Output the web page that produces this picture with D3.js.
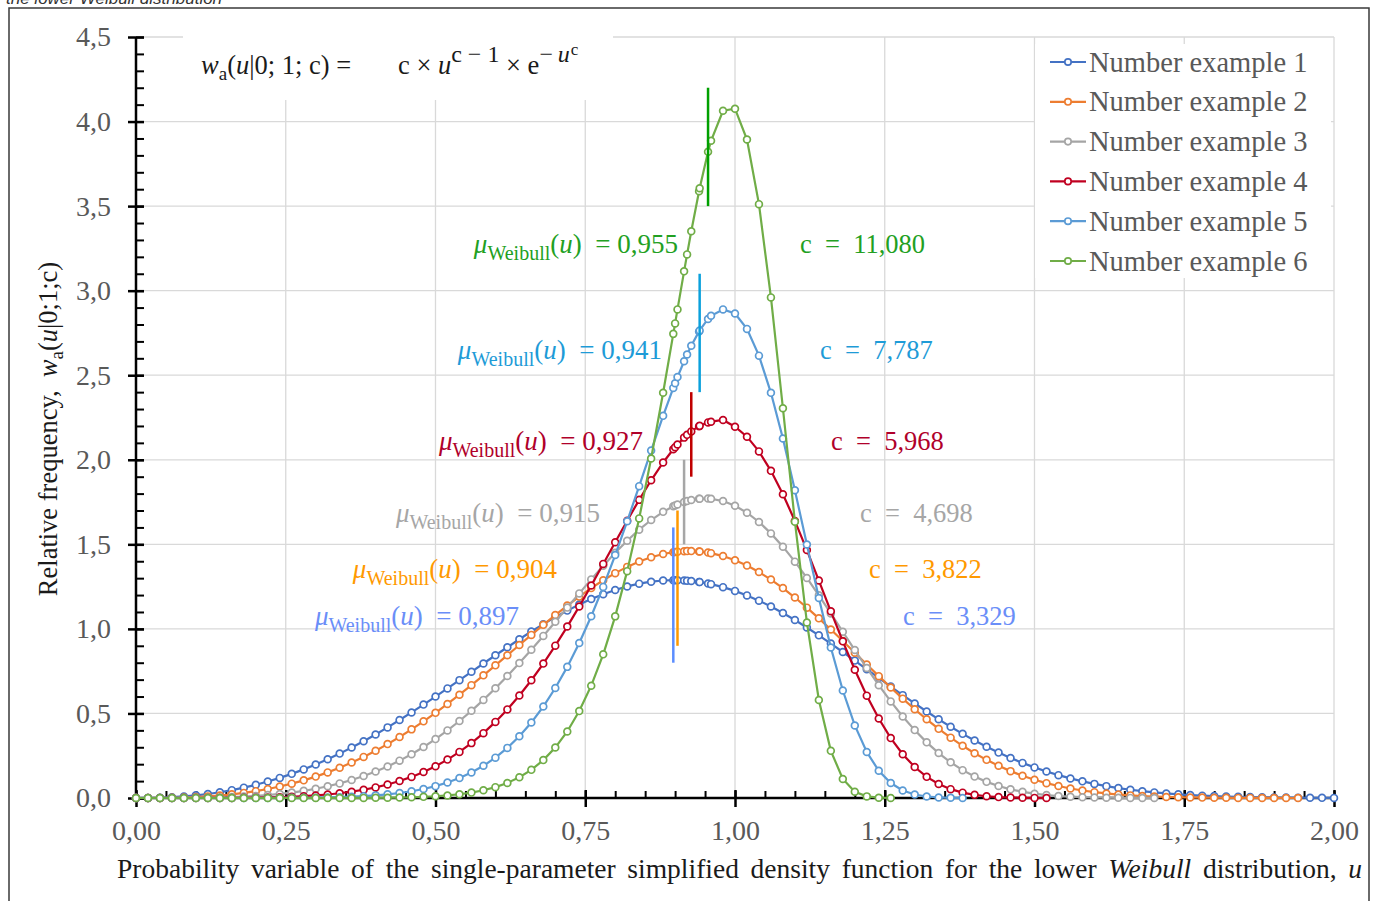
<!DOCTYPE html>
<html><head><meta charset="utf-8">
<script src="https://cdn.jsdelivr.net/npm/d3@7"></script>
<style>
html,body{margin:0;padding:0;background:#fff;}
svg{display:block;}
text{font-family:"Liberation Serif","Times New Roman",serif;}
</style></head><body>
<svg id="chart" width="1378" height="901"></svg>
<script>
// ---------- DATA ----------
const uValues = [0,0.02,0.04,0.06,0.08,0.10,0.12,0.14,0.16,0.18,0.20,0.22,0.24,0.26,0.28,0.30,0.32,0.34,0.36,0.38,0.40,0.42,0.44,0.46,0.48,0.50,0.52,0.54,0.56,0.58,0.60,0.62,0.64,0.66,0.68,0.70,0.72,0.74,0.76,0.78,0.80,0.82,0.84,0.86,0.88,
0.897,0.90,0.904,0.915,0.92,0.927,0.94,0.941,0.955,0.96,
0.98,1.00,1.02,1.04,1.06,1.08,1.10,1.12,1.14,1.16,1.18,1.20,1.22,1.24,1.26,1.28,1.30,1.32,1.34,1.36,1.38,1.40,1.42,1.44,1.46,1.48,1.50,1.52,1.54,1.56,1.58,1.60,1.62,1.64,1.66,1.68,1.70,1.72,1.74,1.76,1.78,1.80,1.82,1.84,1.86,1.88,1.90,1.92,1.94,1.96,1.98,2.00];

const seriesNames = ["Number example 1","Number example 2","Number example 3","Number example 4","Number example 5","Number example 6"];
const cLabels = ["3,329","3,822","4,698","5,968","7,787","11,080"];
const meanValues = [0.897,0.904,0.915,0.927,0.941,0.955];
const meanLabels = ["0,897","0,904","0,915","0,927","0,941","0,955"];

const series1 = [0,0.0004,0.0018,0.0048,0.0093,0.0156,0.0238,0.0341,0.0465,0.0611,0.0780,0.0973,0.1189,0.1428,0.1692,0.1980,0.2291,0.2625,0.2982,0.3360,0.3758,0.4176,0.4610,0.5060,0.5524,0.5998,0.6481,0.6970,0.7462,0.7952,0.8441,0.8916,0.9389,0.9844,1.0279,1.0693,1.1081,1.1439,1.1764,1.2053,1.2302,1.2511,1.2674,1.2791,1.2860,
1.2880,1.2880,1.2878,1.2863,1.2851,1.2830,1.2773,1.2768,1.2682,1.2645,
1.2469,1.2247,1.1980,1.1671,1.1324,1.0941,1.0526,1.0084,0.9618,0.9133,0.8634,0.8125,0.7612,0.7097,0.6586,0.6083,0.5591,0.5114,0.4653,0.4212,0.3794,0.3399,0.3029,0.2686,0.2368,0.2076,0.1810,0.1569,0.1351,0.1157,0.0985,0.0835,0.0702,0.0587,0.0487,0.0402,0.0330,0.0269,0.0218,0.0175,0.0140,0.0111,0.0087,0.0068,0.0053,0.0041,0.0031,0.0024,0.0018,0.0013,0.0010,0.0007];

const series2 = [0,0.0001,0.0004,0.0014,0.0031,0.0058,0.0096,0.0149,0.0217,0.0302,0.0406,0.0531,0.0678,0.0849,0.1045,0.1266,0.1514,0.1791,0.2096,0.2431,0.2794,0.3187,0.3608,0.4058,0.4534,0.5036,0.5561,0.6108,0.6673,0.7254,0.7845,0.8444,0.9046,0.9645,1.0238,1.0816,1.1376,1.1909,1.2411,1.2876,1.3296,1.3667,1.3983,1.4237,1.4429,
1.4536,1.4550,1.4566,1.4594,1.4600,1.4600,1.4576,1.4573,1.4510,1.4478,
1.4306,1.4060,1.3743,1.3360,1.2914,1.2411,1.1855,1.1257,1.0624,0.9960,0.9282,0.8589,0.7893,0.7205,0.6532,0.5875,0.5250,0.4653,0.4090,0.3569,0.3087,0.2650,0.2256,0.1903,0.1589,0.1316,0.1081,0.0878,0.0707,0.0563,0.0445,0.0347,0.0268,0.0205,0.0155,0.0116,0.0086,0.0063,0.0045,0.0032,0.0023,0.0016,0.0011,0.0007,0.0005,0.0003,0.0002,0.0001,0.0001];

const series3 = [0,0,0.0000,0.0001,0.0004,0.0009,0.0019,0.0033,0.0054,0.0083,0.0122,0.0174,0.0240,0.0322,0.0423,0.0545,0.0692,0.0864,0.1066,0.1298,0.1565,0.1867,0.2209,0.2591,0.3015,0.3483,0.3996,0.4553,0.5155,0.5801,0.6488,0.7214,0.7976,0.8768,0.9584,1.0418,1.1260,1.2099,1.2927,1.3732,1.4498,1.5214,1.5867,1.6438,1.6920,
1.7247,1.7297,1.7358,1.7504,1.7558,1.7620,1.7693,1.7697,1.7708,1.7695,
1.7559,1.7283,1.6869,1.6321,1.5647,1.4861,1.3975,1.3011,1.1983,1.0917,0.9831,0.8748,0.7687,0.6671,0.5713,0.4823,0.4014,0.3290,0.2657,0.2109,0.1648,0.1266,0.0954,0.0706,0.0512,0.0365,0.0254,0.0173,0.0116,0.0076,0.0048,0.0030,0.0018,0.0011,0.0006,0.0003,0.0002];

const series4 = [0,0,0,0,0.0000,0.0001,0.0002,0.0003,0.0007,0.0012,0.0020,0.0032,0.0050,0.0074,0.0107,0.0151,0.0208,0.0280,0.0372,0.0486,0.0627,0.0798,0.1003,0.1248,0.1537,0.1877,0.2271,0.2725,0.3245,0.3835,0.4499,0.5240,0.6062,0.6965,0.7948,0.9008,1.0137,1.1328,1.2568,1.3842,1.5125,1.6398,1.7629,1.8787,1.9840,
2.0621,2.0747,2.0907,2.1310,2.1473,2.1679,2.1986,2.2005,2.2211,2.2253,
2.2356,2.1955,2.1366,2.0494,1.9346,1.7965,1.6384,1.4661,1.2859,1.1041,0.9264,0.7586,0.6052,0.4701,0.3543,0.2590,0.1832,0.1252,0.0825,0.0522,0.0317,0.0185,0.0103,0.0054,0.0027,0.0013,0.0006,0.0003];

const series5 = [0,0,0,0,0,0,0,0,0.0000,0.0001,0.0001,0.0003,0.0005,0.0008,0.0014,0.0022,0.0034,0.0051,0.0076,0.0109,0.0155,0.0216,0.0296,0.0400,0.0533,0.0702,0.0915,0.1179,0.1505,0.1904,0.2385,0.2964,0.3652,0.4462,0.5409,0.6502,0.7754,0.9167,1.0746,1.2483,1.4365,1.6362,1.8440,2.0543,2.2599,
2.4250,2.4527,2.4888,2.5828,2.6225,2.6747,2.7590,2.7648,2.8329,2.8513,
2.8891,2.8647,2.7740,2.6156,2.3959,2.1254,1.8198,1.4986,1.1829,0.8899,0.6356,0.4289,0.2720,0.1610,0.0884,0.0446,0.0207,0.0087,0.0033,0.0011,0.0003];

const series6 = [0,0,0,0,0,0,0,0,0,0,0,0,0,0,0,0.0001,0.0001,0.0002,0.0004,0.0006,0.0011,0.0018,0.0028,0.0044,0.0068,0.0102,0.0152,0.0222,0.0320,0.0456,0.0641,0.0891,0.1224,0.1664,0.2240,0.2984,0.3936,0.5140,0.6642,0.8495,1.0740,1.3415,1.6533,2.0072,2.3965,
2.7445,2.8065,2.8891,3.1143,3.2145,3.3511,3.5882,3.6053,3.8214,3.8863,
4.0638,4.0761,3.8938,3.5117,2.9602,2.3047,1.6341,1.0381,0.5795,0.2788,0.1125,0.0370,0.0096,0.0019,0.0003];

const xTickValues = [0,0.25,0.5,0.75,1,1.25,1.5,1.75,2];
const xTickLabels = ["0,00","0,25","0,50","0,75","1,00","1,25","1,50","1,75","2,00"];
const yTickValues = [0,0.5,1,1.5,2,2.5,3,3.5,4,4.5];
const yTickLabels = ["0,0","0,5","1,0","1,5","2,0","2,5","3,0","3,5","4,0","4,5"];

// ---------- STYLE / LAYOUT ----------
const seriesColors = ["#4472C4","#ED7D31","#A5A5A5","#C00020","#5B9BD5","#70AD47"];
const meanColors   = ["#5B8DFF","#FF9900","#A6A6A6","#C00000","#0AA0DC","#00A000"];
const labelColors  = ["#6A8EF8","#FF9900","#A6A6A6","#B0002A","#1E9BD7","#22A022"];
const meanLineTop    = [1.6,1.7,2.0,2.4,3.1,4.2];
const meanLineBottom = [0.8,0.9,1.5,1.9,2.4,3.5];
const muLabelEndU  = [0.6394,0.7028,0.7746,0.8464,0.8781,0.9048];
const cLabelStartU = [1.2805,1.2237,1.2087,1.1603,1.1419,1.1085];
const labelCenterW = [1.076,1.354,1.685,2.111,2.649,3.276];

const svg = d3.select("#chart");
const x = d3.scaleLinear().domain([0,2]).range([136,1334]);
const y = d3.scaleLinear().domain([0,4.5]).range([798,37]);

svg.append("rect").attr("width",1378).attr("height",901).attr("fill","#fff");

// top cut-off caption
svg.append("text").attr("x",6).attr("y",4)
  .style("font-family","'Liberation Sans',Arial,sans-serif").style("font-style","italic")
  .style("font-size","17px").attr("fill","#333").text("the lower Weibull distribution");

// frame
svg.append("path").attr("d","M9,901 L9,8 L1369,8 L1369,901").attr("fill","none")
  .attr("stroke","#3a3a3a").attr("stroke-width",1.5);

// gridlines
const grid = svg.append("g");
grid.selectAll(".gv").data(xTickValues.filter(v=>v>0)).join("line")
  .attr("x1",d=>x(d)).attr("x2",d=>x(d)).attr("y1",y(0)).attr("y2",y(4.5))
  .attr("stroke","#d9d9d9").attr("stroke-width",1.3);
grid.selectAll(".gh").data(yTickValues.filter(v=>v>0)).join("line")
  .attr("x1",x(0)).attr("x2",x(2)).attr("y1",d=>y(d)).attr("y2",d=>y(d))
  .attr("stroke","#d9d9d9").attr("stroke-width",1.3);

// white boxes (formula + legend) covering grid
svg.append("rect").attr("x",183).attr("y",28).attr("width",430).attr("height",72).attr("fill","#fff");
svg.append("rect").attr("x",1035).attr("y",44).attr("width",296).attr("height",234).attr("fill","#fff");

// axes
const axL = d3.axisLeft(y).tickValues(yTickValues).tickFormat((d,i)=>yTickLabels[i]).tickSize(8).tickPadding(17);
const gy = svg.append("g").attr("transform",`translate(${x(0)},0)`).call(axL);
gy.select(".domain").remove();
gy.selectAll(".tick line").attr("x1",8).attr("stroke","#000").attr("stroke-width",2.5);
gy.selectAll(".tick text").attr("fill","#595959").style("font-size","28px").style("font-family","'Liberation Serif',serif");
const gyMinor = svg.append("g").attr("transform",`translate(${x(0)},0)`)
  .call(d3.axisRight(y).ticks(45).tickSize(8).tickFormat(""));
gyMinor.select(".domain").remove();
gyMinor.selectAll(".tick line").attr("stroke","#000").attr("stroke-width",2);

const axB = d3.axisBottom(x).tickValues(xTickValues).tickFormat((d,i)=>xTickLabels[i]).tickSize(9).tickPadding(13);
const gx = svg.append("g").attr("transform",`translate(0,${y(0)})`).call(axB);
gx.select(".domain").remove();
gx.selectAll(".tick line").attr("y1",-8).attr("stroke","#000").attr("stroke-width",2.5);
gx.selectAll(".tick text").attr("fill","#595959").style("font-size","28px").style("font-family","'Liberation Serif',serif");
const gxMinor = svg.append("g").attr("transform",`translate(0,${y(0)})`)
  .call(d3.axisTop(x).ticks(40).tickSize(7).tickFormat(""));
gxMinor.select(".domain").remove();
gxMinor.selectAll(".tick line").attr("stroke","#000").attr("stroke-width",2);

svg.append("line").attr("x1",x(0)).attr("x2",x(0)).attr("y1",y(4.5)).attr("y2",y(0)).attr("stroke","#000").attr("stroke-width",2.5);
svg.append("line").attr("x1",x(0)).attr("x2",x(2)).attr("y1",y(0)).attr("y2",y(0)).attr("stroke","#000").attr("stroke-width",2.5);

// curves
const allSeries = [series1,series2,series3,series4,series5,series6];
const line = d3.line().x(d=>x(d.u)).y(d=>y(d.w));
allSeries.forEach((vals,i)=>{
  const pts = vals.map((v,j)=>({u:uValues[j],w:v}));
  const g = svg.append("g");
  g.append("path").datum(pts).attr("d",line).attr("fill","none")
    .attr("stroke",seriesColors[i]).attr("stroke-width",2.2);
  g.selectAll("circle").data(pts).join("circle")
    .attr("cx",d=>x(d.u)).attr("cy",d=>y(d.w)).attr("r",3.4)
    .attr("fill","#fff").attr("stroke",seriesColors[i]).attr("stroke-width",1.7);
});

// mean lines
svg.append("g").selectAll("line").data(meanValues).join("line")
  .attr("x1",d=>x(d)).attr("x2",d=>x(d))
  .attr("y1",(d,i)=>y(meanLineTop[i])).attr("y2",(d,i)=>y(meanLineBottom[i]))
  .attr("stroke",(d,i)=>meanColors[i]).attr("stroke-width",2.5);

// annotations
meanValues.forEach((m,i)=>{
  const by = y(labelCenterW[i]) + 9;
  const t = svg.append("text").attr("x",x(muLabelEndU[i])).attr("y",by)
    .attr("text-anchor","end").attr("fill",labelColors[i]).style("font-size","27px");
  t.append("tspan").style("font-style","italic").text("μ");
  t.append("tspan").attr("dy",7).style("font-size","20px").text("Weibull");
  t.append("tspan").attr("dy",-7).text("(");
  t.append("tspan").style("font-style","italic").text("u");
  t.append("tspan").text(")\u2002= " + meanLabels[i]);
  svg.append("text").attr("x",x(cLabelStartU[i])).attr("y",by)
    .attr("fill",labelColors[i]).style("font-size","26.5px").text("c\u2002=\u2002" + cLabels[i]);
});

// formula
const f = svg.append("text").attr("x",201).attr("y",74).attr("fill","#1a1a1a").style("font-size","26.5px");
f.append("tspan").style("font-style","italic").text("w");
f.append("tspan").attr("dy",6).style("font-size","19px").text("a");
f.append("tspan").attr("dy",-6).text("(");
f.append("tspan").style("font-style","italic").text("u");
f.append("tspan").text("|0; 1; c) =");
const f2 = svg.append("text").attr("x",398).attr("y",74).attr("fill","#1a1a1a").style("font-size","26.5px");
f2.append("tspan").text("c × ");
f2.append("tspan").style("font-style","italic").text("u");
f2.append("tspan").attr("dy",-12).style("font-size","24px").text("c − 1");
f2.append("tspan").attr("dy",12).text(" × e");
f2.append("tspan").attr("dy",-12).style("font-size","24px").text("−\u2009");
f2.append("tspan").style("font-size","24px").style("font-style","italic").text("u");
f2.append("tspan").attr("dy",-7).attr("dx",1).style("font-size","17px").text("c");

// legend
const lg = svg.append("g");
seriesNames.forEach((n,i)=>{
  const ly = 62 + i*39.8;
  lg.append("line").attr("x1",1050).attr("x2",1086).attr("y1",ly).attr("y2",ly)
    .attr("stroke",seriesColors[i]).attr("stroke-width",2.2);
  lg.append("circle").attr("cx",1068).attr("cy",ly).attr("r",3.2)
    .attr("fill","#fff").attr("stroke",seriesColors[i]).attr("stroke-width",1.7);
  lg.append("text").attr("x",1089).attr("y",ly+9.5).attr("fill","#595959")
    .style("font-size","28.5px").text(n);
});

// y title
const yt = svg.append("text").attr("transform","translate(57,429) rotate(-90)")
  .attr("text-anchor","middle").attr("fill","#1a1a1a").style("font-size","26.5px");
yt.append("tspan").text("Relative frequency,\u00A0\u00A0");
yt.append("tspan").style("font-style","italic").text("w");
yt.append("tspan").attr("dy",6).style("font-size","19px").text("a");
yt.append("tspan").attr("dy",-6).text("(");
yt.append("tspan").style("font-style","italic").text("u");
yt.append("tspan").text("|0;1;c)");

// x title
const xt = svg.append("text").attr("x",117).attr("y",878).attr("fill","#1a1a1a").style("font-size","27.5px");
xt.append("tspan").text("Probability variable of the single-parameter simplified density function for the lower ");
xt.append("tspan").style("font-style","italic").text("Weibull");
xt.append("tspan").text(" distribution, ");
xt.append("tspan").style("font-style","italic").text("u");
const len = xt.node().getComputedTextLength();
const nSpaces = 13;
xt.style("word-spacing", Math.max(0,(1245-len)/nSpaces) + "px");
</script>
</body></html>
